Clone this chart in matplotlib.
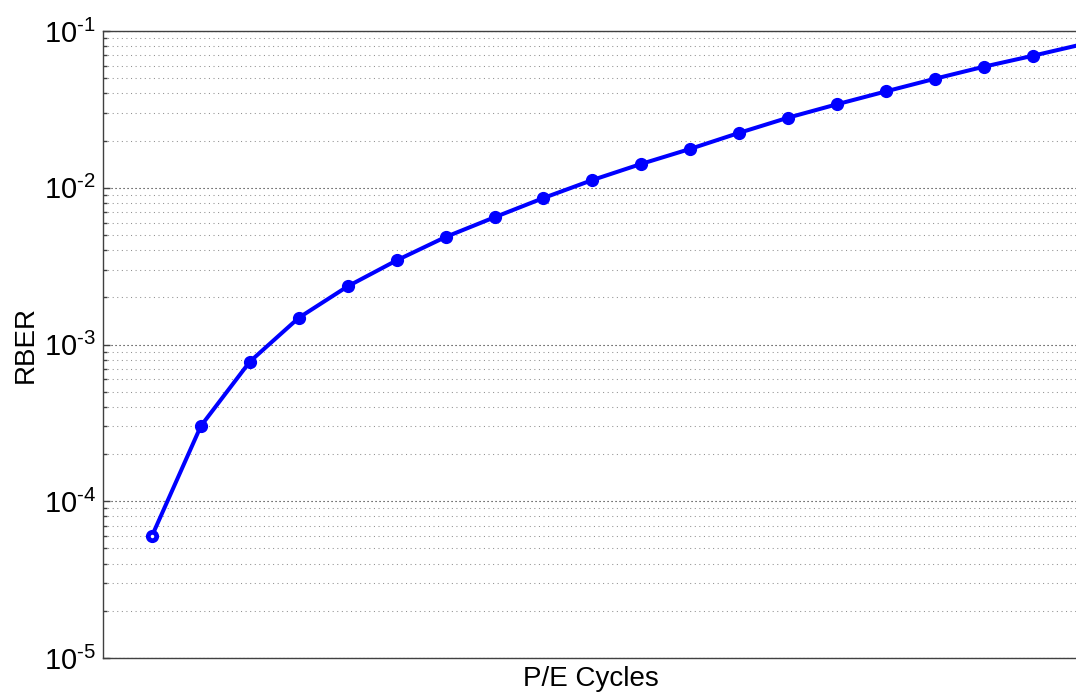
#!/usr/bin/env python

"""
RBER vs P/E cycles - log scale plot
"""

import math
import matplotlib
matplotlib.use('Agg')
import matplotlib.pyplot as plt
from matplotlib.ticker import LogLocator, FuncFormatter, NullFormatter

# -------------------- Data --------------------

cycle_idx = [1, 2, 3, 4, 5, 6, 7, 8, 9, 10,
             11, 12, 13, 14, 15, 16, 17, 18, 19, 20]
rber = [6.0e-5, 3.02e-4, 7.77e-4, 1.48e-3, 2.35e-3, 3.44e-3, 4.85e-3, 6.48e-3,
        8.60e-3, 1.12e-2, 1.42e-2, 1.77e-2, 2.24e-2, 2.80e-2, 3.41e-2, 4.12e-2,
        4.96e-2, 5.92e-2, 6.95e-2, 8.21e-2]

# -------------------- Utils --------------------

def decade_label(v, pos):
    # MATLAB style: 10 with a short hyphen in the exponent
    e = int(round(math.log10(v)))
    if e < 0:
        return r'$10^{\text{-}%d}$' % (-e)
    return r'$10^{%d}$' % e

# -------------------- Plot --------------------

def main():
    plt.rcParams['font.family'] = ['Liberation Sans', 'DejaVu Sans']
    plt.rcParams['mathtext.fontset'] = 'custom'
    plt.rcParams['mathtext.rm'] = 'Liberation Sans'
    plt.rcParams['mathtext.it'] = 'Liberation Sans'

    W, H = 1076, 696
    fig = plt.figure(figsize=(W / 100, H / 100), dpi=100)

    # axes run past the right edge of the picture (cropped MATLAB figure)
    x0, y_top, y_bot, step = 103, 31, 658, 48.94
    ax = fig.add_axes([x0 / W, (H - y_bot) / H, 21 * step / W, (y_bot - y_top) / H])

    ax.plot(cycle_idx, rber, '-o', color='#0000ff', lw=2.9, ms=8.5,
            mec='#0000ff', mfc='#0000ff')
    # first point shows as a ring
    ax.plot(cycle_idx[:1], rber[:1], 'o', color='white', ms=2.5, mew=0)

    ax.set_yscale('log')
    ax.set_ylim(1e-5, 1e-1)
    ax.set_xlim(0, 21)
    ax.set_xticks([])

    ax.yaxis.set_major_locator(LogLocator(base=10))
    ax.yaxis.set_minor_locator(LogLocator(base=10, subs=range(2, 10)))
    ax.yaxis.set_major_formatter(FuncFormatter(decade_label))
    ax.yaxis.set_minor_formatter(NullFormatter())

    ax.grid(True, which='major', axis='y', color='#202020',
            linestyle=(0, (1, 2.6)), lw=0.8)
    ax.grid(True, which='minor', axis='y', color='#909090',
            linestyle=(0, (1, 3.4)), lw=0.75)
    ax.set_axisbelow(True)

    ax.tick_params(axis='y', which='major', direction='in', length=5,
                   width=1, color='#404040', labelsize=21, pad=5)
    ax.tick_params(axis='y', which='minor', direction='in', length=3,
                   width=1, color='#404040')
    for side in ['left', 'top', 'bottom', 'right']:
        ax.spines[side].set_color('#404040')
        ax.spines[side].set_linewidth(1.0)

    ax.set_ylabel('RBER', fontsize=20, va='center')
    ax.yaxis.set_label_coords((25.5 - x0) / (21 * step), 0.5)
    ax.set_xlabel('P/E Cycles', fontsize=20, va='top')
    ax.xaxis.set_label_coords((591 - x0) / (21 * step), -0.013)

    fig.savefig('out.png', dpi=100)


if __name__ == "__main__":
    main()
